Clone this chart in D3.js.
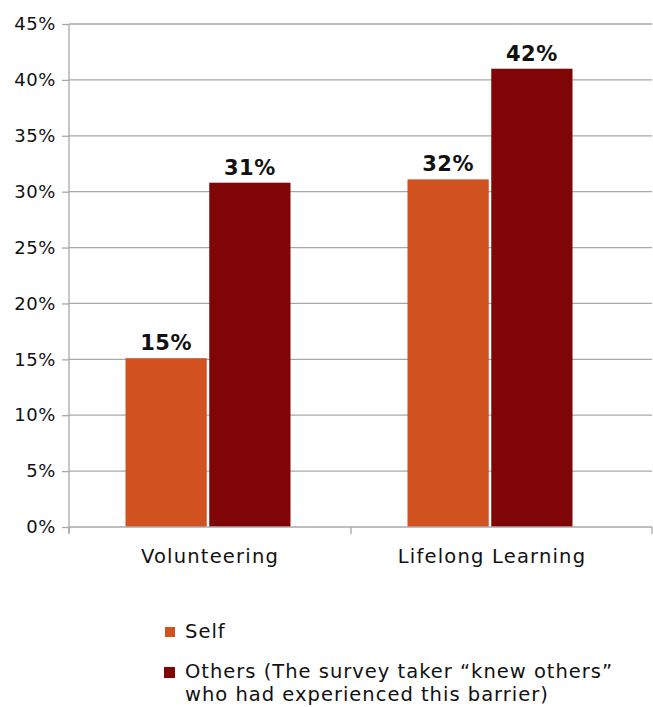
<!DOCTYPE html>
<html>
<head>
<meta charset="utf-8">
<script src="https://cdn.jsdelivr.net/npm/d3@7"></script>
<style>
  body { margin: 0; background: #fff; }
  text { font-family: "DejaVu Sans", sans-serif; fill: #111; }
</style>
</head>
<body>
<div id="chart"></div>
<script>
// data
var categories = ["Volunteering", "Lifelong Learning"];
var seriesNames = ["Self", "Others (The survey taker \u201cknew others\u201d who had experienced this barrier)"];
var selfValues = [15.1, 31.1];
var othersValues = [30.8, 41.0];
var selfLabels = ["15%", "32%"];
var othersLabels = ["31%", "42%"];
var yTicks = [0, 5, 10, 15, 20, 25, 30, 35, 40, 45];
var colors = ["#D1511F", "#800507"];

var W = 653, H = 707;
var plotLeft = 69, plotTop = 24, plotBottom = 527, plotRight = 652;
var groupW = 165;

var svg = d3.select("#chart").append("svg")
    .attr("width", W)
    .attr("height", H);

var y = d3.scaleLinear().domain([0, 45]).range([plotBottom, plotTop]);

var x0 = d3.scaleBand()
    .domain(categories)
    .range([plotLeft, 633]);

var x1 = d3.scaleBand()
    .domain([0, 1])
    .range([0, groupW])
    .paddingInner(0.03);

// gridlines
svg.append("g")
  .selectAll("line")
  .data(yTicks.slice(1))
  .enter().append("line")
    .attr("x1", plotLeft)
    .attr("x2", plotRight)
    .attr("y1", function(d) { return y(d); })
    .attr("y2", function(d) { return y(d); })
    .attr("stroke", "#a8a8a8")
    .attr("stroke-width", 1.3);

// y axis
var yAxis = svg.append("g")
    .attr("transform", "translate(" + plotLeft + ",0)")
    .call(d3.axisLeft(y).tickValues(yTicks).tickSize(7).tickPadding(6)
        .tickFormat(function(d) { return d + "%"; }));
yAxis.select(".domain").remove();
yAxis.selectAll(".tick line").attr("stroke", "#a8a8a8").attr("stroke-width", 1.3);
yAxis.selectAll(".tick text")
    .style("font-family", "'DejaVu Sans', sans-serif")
    .style("font-size", "18px")
    .style("letter-spacing", "0.6px")
    .attr("fill", "#111");

svg.append("line")
    .attr("x1", plotLeft).attr("x2", plotLeft)
    .attr("y1", plotTop).attr("y2", plotBottom + 6)
    .attr("stroke", "#a8a8a8").attr("stroke-width", 1.3);

function pairs(d, i) {
  return [
    {s: 0, v: selfValues[i], l: selfLabels[i]},
    {s: 1, v: othersValues[i], l: othersLabels[i]}
  ];
}

// bars
var groups = svg.append("g")
  .selectAll("g")
  .data(categories)
  .enter().append("g")
    .attr("transform", function(d) {
      return "translate(" + (x0(d) + (x0.bandwidth() - groupW) / 2 - 2) + ",0)";
    });

groups.selectAll("rect")
  .data(pairs)
  .enter().append("rect")
    .attr("x", function(d) { return x1(d.s); })
    .attr("width", x1.bandwidth())
    .attr("y", function(d) { return y(d.v); })
    .attr("height", function(d) { return plotBottom - y(d.v); })
    .attr("fill", function(d) { return colors[d.s]; });

groups.selectAll("text.val")
  .data(pairs)
  .enter().append("text")
    .attr("class", "val")
    .attr("x", function(d) { return x1(d.s) + x1.bandwidth() / 2; })
    .attr("y", function(d) { return y(d.v) - 8; })
    .attr("text-anchor", "middle")
    .style("font-size", "21px")
    .style("font-weight", "bold")
    .style("letter-spacing", "0.5px")
    .text(function(d) { return d.l; });

// x axis
svg.append("line")
    .attr("x1", plotLeft).attr("x2", plotRight)
    .attr("y1", plotBottom).attr("y2", plotBottom)
    .attr("stroke", "#a8a8a8").attr("stroke-width", 1.3);

var tickXs = categories.map(function(d) { return x0(d); }).concat([plotRight]);
svg.append("g")
  .selectAll("line")
  .data(tickXs)
  .enter().append("line")
    .attr("x1", function(d) { return d; })
    .attr("x2", function(d) { return d; })
    .attr("y1", plotBottom)
    .attr("y2", plotBottom + 7)
    .attr("stroke", "#a8a8a8").attr("stroke-width", 1.3);

svg.append("g")
  .selectAll("text")
  .data(categories)
  .enter().append("text")
    .attr("x", function(d) { return x0(d) + x0.bandwidth() / 2; })
    .attr("y", 563)
    .attr("text-anchor", "middle")
    .style("font-size", "19.5px")
    .style("letter-spacing", "1.2px")
    .text(function(d) { return d; });

// legend
var legend = svg.append("g")
    .style("font-size", "19.5px")
    .style("letter-spacing", "1px");
legend.append("rect")
    .attr("x", 165).attr("y", 627).attr("width", 10).attr("height", 10)
    .attr("fill", colors[0]);
legend.append("text")
    .attr("x", 185).attr("y", 638)
    .text(seriesNames[0]);

legend.append("rect")
    .attr("x", 164).attr("y", 667).attr("width", 11).attr("height", 11)
    .attr("fill", colors[1]);
var t2 = legend.append("text")
    .attr("x", 185).attr("y", 678);
t2.append("tspan").attr("x", 185).text("Others (The survey taker \u201cknew others\u201d");
t2.append("tspan").attr("x", 185).attr("dy", 23).text("who had experienced this barrier)");
</script>
</body>
</html>
